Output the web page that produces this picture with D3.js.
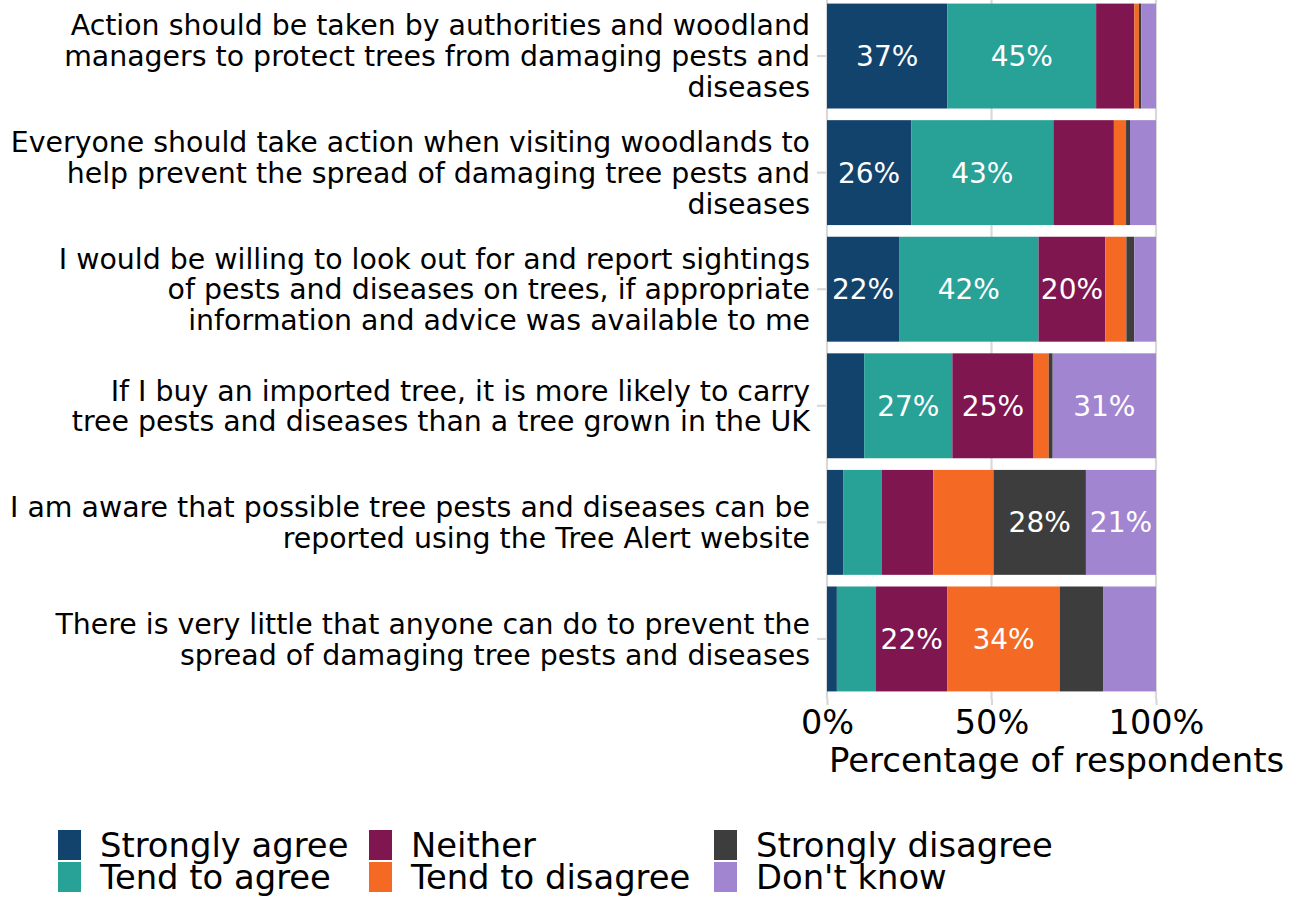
<!DOCTYPE html>
<html>
<head>
<meta charset="utf-8">
<script src="https://cdn.jsdelivr.net/npm/d3@7"></script>
<style>
  body { margin: 0; background: #fff; }
  svg text { font-family: "DejaVu Sans", Verdana, sans-serif; }
</style>
</head>
<body>
<div id="tree-chart"></div>
<script>
// Tree pests and diseases attitudes - stacked bar chart

// statements (line breaks as they wrap on the axis)
const statements = [
  "Action should be taken by authorities and woodland\nmanagers to protect trees from damaging pests and\ndiseases",
  "Everyone should take action when visiting woodlands to\nhelp prevent the spread of damaging tree pests and\ndiseases",
  "I would be willing to look out for and report sightings\nof pests and diseases on trees, if appropriate\ninformation and advice was available to me",
  "If I buy an imported tree, it is more likely to carry\ntree pests and diseases than a tree grown in the UK",
  "I am aware that possible tree pests and diseases can be\nreported using the Tree Alert website",
  "There is very little that anyone can do to prevent the\nspread of damaging tree pests and diseases"
];

const responses = ["Strongly agree", "Tend to agree", "Neither", "Tend to disagree", "Strongly disagree", "Don't know"];
const colours = ["#12436D", "#28A197", "#801650", "#F46A25", "#3D3D3D", "#A285D1"];

// percentage of respondents, one array per response
const stronglyAgree    = [36.6, 25.6, 21.9, 11.3, 4.9, 3.0];
const tendToAgree      = [45.2, 43.2, 42.4, 26.8, 11.8, 11.9];
const neither          = [11.6, 18.4, 20.3, 24.7, 15.6, 21.7];
const tendToDisagree   = [1.4, 3.7, 6.4, 4.6, 18.3, 34.1];
const stronglyDisagree = [0.7, 1.2, 2.4, 1.2, 28.1, 13.2];
const dontKnow         = [4.5, 7.9, 6.6, 31.4, 21.3, 16.1];

const xTicks = [0, 50, 100];
const labelMin = 20; // only label segments at least this big

const seriesValues = [stronglyAgree, tendToAgree, neither, tendToDisagree, stronglyDisagree, dontKnow];

const table = statements.map((s, i) => {
  const row = { statement: s };
  responses.forEach((r, j) => { row[r] = seriesValues[j][i]; });
  return row;
});

const W = 1303, H = 897;
const margin = { left: 827, right: 147, top: -4, bottom: 198 };

const svg = d3.select("#tree-chart").append("svg")
  .attr("width", W).attr("height", H)
  .attr("viewBox", `0 0 ${W} ${H}`);

const x = d3.scaleLinear().domain([0, 100]).range([margin.left, W - margin.right]);
const y = d3.scaleBand()
  .domain(statements)
  .range([margin.top, H - margin.bottom])
  .paddingInner(0.1)
  .paddingOuter(0.065);

const gridColour = "#D9D9D9";

// vertical gridlines
svg.append("g")
  .selectAll("line")
  .data(xTicks)
  .join("line")
  .attr("x1", d => x(d)).attr("x2", d => x(d))
  .attr("y1", margin.top).attr("y2", H - margin.bottom)
  .attr("stroke", gridColour)
  .attr("stroke-width", 2.2);

// stacked bars
const stack = d3.stack().keys(responses)(table);

const layers = svg.append("g")
  .selectAll("g")
  .data(stack)
  .join("g")
  .attr("fill", (d, i) => colours[i]);

layers.selectAll("rect")
  .data(d => d)
  .join("rect")
  .attr("x", d => x(d[0]))
  .attr("width", d => x(d[1]) - x(d[0]))
  .attr("y", d => y(d.data.statement))
  .attr("height", y.bandwidth());

// percentage labels on big segments
layers.selectAll("text")
  .data(d => d.filter(p => p[1] - p[0] >= labelMin))
  .join("text")
  .attr("x", d => (x(d[0]) + x(d[1])) / 2)
  .attr("y", d => y(d.data.statement) + y.bandwidth() / 2)
  .attr("dy", "0.36em")
  .attr("text-anchor", "middle")
  .attr("fill", "#fff")
  .attr("font-size", "28px")
  .text(d => Math.round(d[1] - d[0]) + "%");

// y axis: ticks and wrapped labels
const yAxis = svg.append("g")
  .attr("transform", `translate(${margin.left},0)`)
  .call(d3.axisLeft(y).tickSize(9).tickPadding(16))
  .call(g => g.select(".domain").remove());

yAxis.selectAll(".tick line").attr("stroke", gridColour).attr("stroke-width", 2.2).attr("x1", -10).attr("x2", -1);

yAxis.selectAll(".tick text")
  .attr("font-size", "28.4px")
  .attr("fill", "#000")
  .attr("dy", null)
  .each(function (d) {
    const lines = d.split("\n");
    const t = d3.select(this).text(null);
    const lh = 30.8;
    lines.forEach((ln, k) => {
      t.append("tspan")
        .attr("x", -17)
        .attr("y", (k - (lines.length - 1) / 2) * lh)
        .attr("dy", "0.36em")
        .text(ln);
    });
  });

// x axis
const xAxis = svg.append("g")
  .attr("transform", `translate(0,${H - margin.bottom})`)
  .call(d3.axisBottom(x).tickValues(xTicks).tickFormat(d => d + "%").tickSize(6).tickPadding(5))
  .call(g => g.select(".domain").remove());

xAxis.selectAll(".tick line").attr("stroke", gridColour).attr("stroke-width", 2.2);
xAxis.selectAll(".tick text").attr("font-size", "33.5px").attr("fill", "#000");

svg.append("text")
  .attr("x", margin.left + 2)
  .attr("y", 772)
  .attr("font-size", "33.9px")
  .attr("fill", "#000")
  .text("Percentage of respondents");

// legend, filled by column
const legendCols = [58, 369, 714];
const legendRows = [830, 862];

const legend = svg.append("g")
  .selectAll("g")
  .data(responses)
  .join("g")
  .attr("transform", (d, i) => `translate(${legendCols[Math.floor(i / 2)]},${legendRows[i % 2]})`);

legend.append("rect")
  .attr("width", 23).attr("height", 30)
  .attr("fill", (d, i) => colours[i]);

legend.append("text")
  .attr("x", 42)
  .attr("y", 15)
  .attr("dy", "0.36em")
  .attr("font-size", "33.8px")
  .attr("fill", "#000")
  .text(d => d);
</script>
</body>
</html>
